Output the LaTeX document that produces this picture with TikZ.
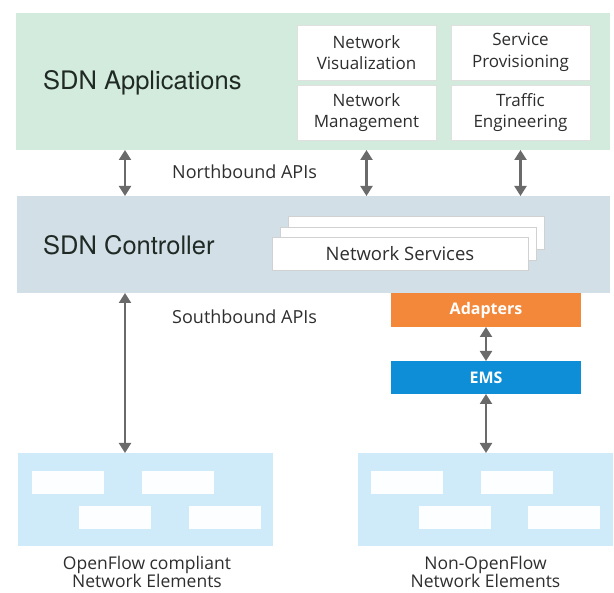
\documentclass[tikz,border=0pt]{standalone}
\usepackage{fontspec}
\setmainfont{Open Sans}
\newfontfamily\headfont{TeX Gyre Heros}
\usetikzlibrary{arrows.meta}

\definecolor{appgreen}{HTML}{D3EBDC}
\definecolor{ctrlblue}{HTML}{D2DFE7}
\definecolor{adaptorange}{HTML}{F3873A}
\definecolor{emsblue}{HTML}{0E8ED6}
\definecolor{nebox}{HTML}{CFEAF8}
\definecolor{arrowgrey}{HTML}{6A6A6A}
\definecolor{labelgrey}{HTML}{2E2E2E}
\definecolor{headtext}{HTML}{1F2A25}

\tikzset{
  panel/.style={inner sep=0pt, outer sep=0pt, draw=none},
  appbox/.style={panel, fill=white, draw=black!12, line width=0.6pt,
    minimum width=139pt, minimum height=55pt, align=center,
    font=\fontsize{17}{21.5}\selectfont, text=labelgrey},
  svcbox/.style={panel, fill=white, draw=black!18, line width=0.6pt,
    minimum width=256pt, minimum height=33pt},
  colorbar/.style={panel, minimum width=190pt, minimum height=34pt,
    text=white, font=\fontsize{16}{18}\selectfont\bfseries},
  nepanel/.style={panel, fill=nebox, minimum width=255pt, minimum height=93pt},
  cell/.style={panel, fill=white!96!nebox, minimum width=72pt, minimum height=23pt},
  caption/.style={inner sep=0pt, text=labelgrey, font=\fontsize{18}{20}\selectfont},
  headline/.style={inner sep=0pt, text=headtext, font=\headfont\fontsize{25.5}{30}\selectfont},
  bothway/.style={draw=arrowgrey, line width=2.2pt,
    {Triangle[width=12pt,length=10pt]}-{Triangle[width=12pt,length=10pt]}}
}

\begin{document}
\begin{tikzpicture}[x=1pt,y=-1pt]
\useasboundingbox (0,0) rectangle (614,593);

% application layer
\node[panel, fill=appgreen, minimum width=594pt, minimum height=137pt] (app) at (313,81.5) {};
\node[headline, anchor=base west] (apptitle) at (43,90) {SDN Applications};
\node[appbox] (nv) at (366.5,52.5) {Network\\Visualization};
\node[appbox] (nm) at (366.5,112.5) {Network\\Management};
\node[appbox] (sp) at (520.5,52.5) {Service\\Provisioning};
\node[appbox] (te) at (520.5,112.5) {Traffic\\Engineering};

% controller layer
\node[panel, fill=ctrlblue, minimum width=593pt, minimum height=97pt] (ctrl) at (313.5,244.5) {};
\node[headline, anchor=base west] (ctrltitle) at (43,255) {SDN Controller};
\node[svcbox] (ns3) at (416,232.5) {};
\node[svcbox] (ns2) at (408,243.5) {};
\node[svcbox, text=labelgrey, font=\fontsize{18.5}{21}\selectfont] (ns1) at (400,253.5) {Network Services};

% adapter chain
\node[colorbar, fill=adaptorange] (adp) at (486,310) {Adapters};
\node[colorbar, fill=emsblue, minimum height=33pt] (ems) at (486,377.5) {EMS};

% network elements
\node[nepanel] (ofe) at (145.5,499.5) {};
\node[cell] (o1) at (67.5,482.5) {};
\node[cell] (o2) at (177.5,482.5) {};
\node[cell] (o3) at (115,517.5) {};
\node[cell] (o4) at (225,517.5) {};
\node[nepanel] (nofe) at (485.5,499.5) {};
\node[cell] (n1) at (407,482.5) {};
\node[cell] (n2) at (516.5,482.5) {};
\node[cell] (n3) at (454.5,517.5) {};
\node[cell] (n4) at (564,517.5) {};

\node[caption, align=center, font=\fontsize{17.5}{17}\selectfont] (ofetext) at (147,572) {OpenFlow compliant\\Network Elements};
\node[caption, align=center, font=\fontsize{17.5}{17}\selectfont] (nofetext) at (485.5,572) {Non-OpenFlow\\Network Elements};

% API labels
\node[caption, anchor=west] (nbapi) at (172,172) {Northbound APIs};
\node[caption, anchor=west] (sbapi) at (172,317) {Southbound APIs};

% connectors
\coordinate (lane) at (125,0);
\draw[bothway] (app.south -| lane) -- (ctrl.north -| lane);
\draw[bothway] (app.south -| nv) -- (ctrl.north -| nv);
\draw[bothway] (app.south -| sp) -- (ctrl.north -| sp);
\draw[bothway] (ctrl.south -| lane) -- (ofe.north -| lane);
\draw[bothway] (adp.south) -- (ems.north);
\draw[bothway] (ems.south) -- (nofe.north -| ems.south);
\end{tikzpicture}
\end{document}
